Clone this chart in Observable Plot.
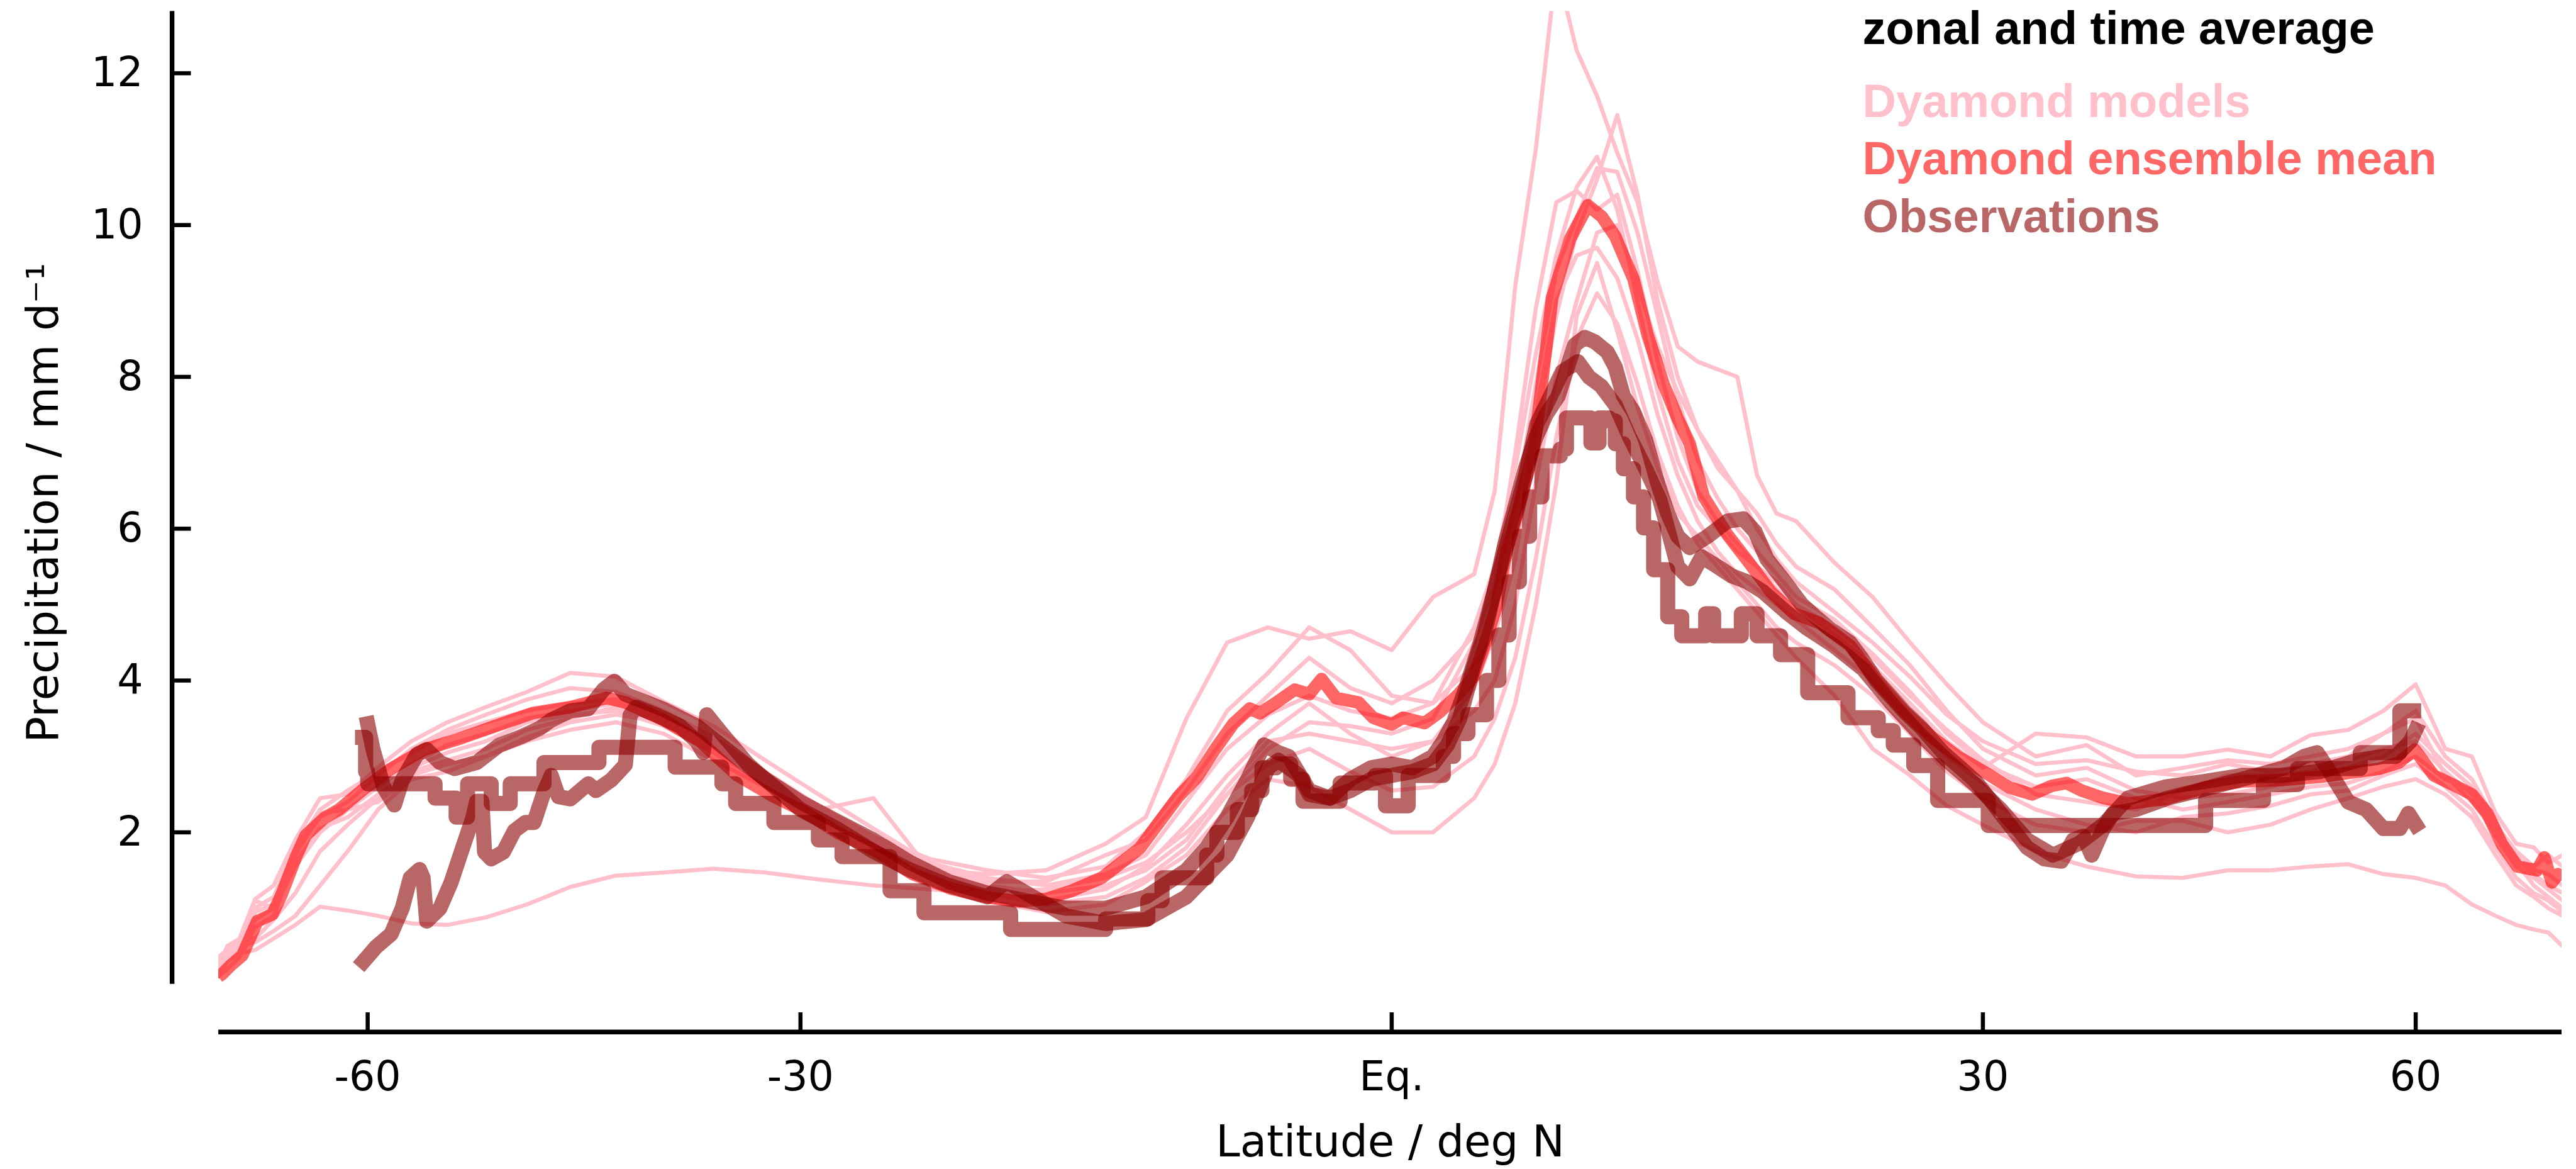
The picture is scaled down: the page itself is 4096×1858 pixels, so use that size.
<!DOCTYPE html>
<html>
<head>
<meta charset="utf-8">
<script src="https://cdn.jsdelivr.net/npm/d3@7"></script>
<script src="https://cdn.jsdelivr.net/npm/@observablehq/plot@0.6"></script>
<style>
  html, body { margin: 0; padding: 0; background: #fff; }
  #chart { width: 4096px; height: 1858px; }
</style>
</head>
<body>
<div id="chart"></div>
<script>
// ---------------- DATA ----------------
// latitude grid shared by the Dyamond model curves
const modelLat = [
  -83,-80,-77,-74,-71,-68,-65,-62,
  -59,-56,-53,-50,-47,-44,-41,-38,-35,-32,-29,
  -26,-23,-20,-17,-14,
  -12,-10,-8,-6,-4,-2,
  0,
  2,4,5,6,7,8,9,10,11,12,13,14,15,16,17,18,19,20,
  22,24,26,28,30,
  33,36,39,42,45,48,51,54,57,60,
  63,66,69,72,75,78,82
];
const model1 = [
  0.3,0.45,0.55,1.1,1.0,1.55,2.0,2.3,
  2.6,2.9,3.15,3.3,3.5,3.6,3.7,3.5,3.2,2.7,2.3,
  2.45,1.5,1.45,1.5,1.85,
  2.2,3.5,4.5,4.7,4.55,4.65,
  4.4,
  5.1,5.4,6.5,9.2,11.0,13.4,12.3,11.7,10.95,10.3,9.25,8.4,8.2,8.1,8.0,6.7,6.2,6.1,
  5.55,5.1,4.5,3.95,3.45,
  3.0,3.15,2.75,2.85,2.95,2.9,3.0,3.1,3.3,3.5,
  2.75,2.4,2.0,1.6,1.3,1.15,1.0
];
const model2 = [
  0.2,0.3,0.4,0.45,0.6,0.78,1.02,0.97,
  0.9,0.8,0.78,0.88,1.05,1.28,1.43,1.47,1.52,1.47,1.38,
  1.3,1.25,1.2,1.25,1.4,
  1.6,2.0,2.5,2.9,3.1,2.8,
  2.55,
  2.6,3.0,3.5,4.3,5.6,7.2,8.5,9.1,8.7,7.9,7.0,6.3,5.8,5.5,5.2,4.9,4.6,4.3,
  3.8,3.1,2.75,2.35,2.1,
  1.75,1.55,1.42,1.4,1.5,1.5,1.55,1.58,1.45,1.4,
  1.3,1.05,0.9,0.78,0.72,0.68,0.5
];
const model3 = [
  0.15,0.35,0.5,0.55,0.7,0.9,1.3,1.75,
  2.3,2.7,2.8,3.0,3.25,3.45,3.55,3.45,3.15,2.75,2.3,
  1.9,1.5,1.3,1.2,1.3,
  1.5,1.9,2.6,3.2,3.3,3.2,
  3.1,
  3.2,3.9,4.6,5.6,7.5,9.0,9.6,9.7,9.3,8.5,7.5,6.7,6.1,5.7,5.4,5.2,5.0,4.8,
  4.4,4.0,3.5,3.0,2.65,
  2.3,2.1,2.0,2.2,2.25,2.35,2.5,2.55,2.75,2.9,
  2.6,2.3,1.8,1.4,1.2,1.1,0.95
];
const model4 = [
  0.12,0.3,0.42,0.95,1.05,1.75,2.2,2.4,
  2.75,3.1,3.35,3.55,3.75,3.9,3.85,3.6,3.25,2.8,2.35,
  1.95,1.65,1.5,1.4,1.55,
  2.0,2.7,3.6,4.1,4.7,4.4,
  3.8,
  3.7,4.2,4.6,5.6,7.3,8.8,9.9,10.6,11.45,10.4,9.0,8.0,7.3,6.8,6.5,6.2,5.8,5.5,
  5.2,4.7,4.2,3.6,3.1,
  2.75,2.85,2.55,2.45,2.5,2.6,2.75,2.85,3.0,3.3,
  2.9,2.6,2.05,1.7,1.5,1.45,1.3
];
const model5 = [
  0.25,0.4,0.6,1.12,1.3,1.9,2.45,2.5,
  2.86,3.2,3.45,3.65,3.85,4.1,4.05,3.72,3.4,2.95,2.5,
  2.05,1.6,1.4,1.3,1.45,
  1.7,2.4,3.1,3.55,3.8,3.6,
  3.5,
  3.7,4.7,5.5,6.8,8.3,9.6,10.5,10.9,10.2,9.0,7.8,6.9,6.3,6.0,5.7,5.5,5.3,5.0,
  4.6,4.2,3.7,3.2,2.85,
  3.3,3.25,3.0,3.0,3.09,3.0,3.28,3.35,3.6,3.95,
  3.1,3.0,2.25,1.85,1.8,1.6,1.7
];
const model6 = [
  0.1,0.2,0.35,0.75,0.9,1.7,2.25,2.3,
  2.4,2.75,2.9,3.0,3.2,3.35,3.45,3.3,2.95,2.6,2.2,
  1.8,1.45,1.2,1.05,1.15,
  1.4,1.8,2.5,3.1,3.45,3.4,
  3.3,
  3.5,4.5,5.3,7.0,8.9,10.3,10.45,10.2,10.4,9.4,8.2,7.2,6.5,6.1,5.8,5.5,5.2,5.0,
  4.7,4.3,3.8,3.35,2.95,
  2.5,2.4,2.3,2.55,2.75,2.75,2.8,2.95,3.1,3.2,
  2.8,2.5,1.95,1.55,1.4,1.25,1.1
];
const model7 = [
  0.2,0.5,0.6,0.6,0.85,1.2,1.75,2.1,
  2.45,2.85,3.05,3.2,3.45,3.55,3.6,3.4,3.05,2.65,2.25,
  1.85,1.4,1.1,0.95,1.05,
  1.35,1.7,2.3,2.7,2.6,2.3,
  2.0,
  2.0,2.45,2.9,3.7,5.0,6.6,8.8,9.5,8.6,7.6,6.8,6.2,5.9,5.6,5.3,5.0,4.7,4.5,
  4.2,3.8,3.3,2.8,2.45,
  2.1,2.0,2.15,2.15,2.0,2.1,2.3,2.45,2.6,2.7,
  2.5,2.2,1.7,1.3,1.15,1.0,0.9
];
const model8 = [
  0.35,0.45,0.5,1.0,1.15,1.8,2.3,2.55,
  2.8,3.05,3.3,3.45,3.6,3.7,3.75,3.55,3.15,2.7,2.3,
  1.95,1.55,1.35,1.35,1.7,
  1.9,2.55,3.3,3.8,4.3,3.9,
  3.7,
  4.0,4.6,5.2,6.3,7.9,9.4,10.1,10.75,10.7,9.9,8.8,7.7,6.9,6.4,6.0,5.7,5.4,5.1,
  4.8,4.35,3.85,3.3,2.9,
  2.6,2.7,2.45,2.3,2.4,2.5,2.6,2.65,2.8,3.0,
  2.7,2.55,2.1,1.75,1.55,1.7,1.55
];
const model9 = [
  0.15,0.3,0.45,0.85,1.0,1.6,2.05,2.2,
  2.5,2.8,2.95,3.1,3.35,3.5,3.65,3.45,3.1,2.7,2.28,
  1.8,1.45,1.25,1.1,1.25,
  1.55,2.1,2.75,3.3,3.7,3.3,
  3.0,
  3.2,3.6,4.0,5.0,6.6,8.0,9.0,9.9,10.0,9.2,8.4,7.8,7.3,6.9,6.5,6.0,5.6,5.3,
  4.9,4.5,4.05,3.55,3.2,
  2.9,2.95,2.8,2.75,2.9,2.8,2.9,3.0,3.3,3.6,
  3.0,2.7,2.15,1.65,1.45,1.3,1.2
];

// Dyamond ensemble mean: [latitude, mm/d]
const ensembleMean = [
  [-83,0.08],[-82.8,0.1],[-81.6,0.13],[-79,0.25],[-76.4,0.38],[-73.6,0.83],[-71.2,0.92],[-69.9,1.17],
  [-67.9,1.68],[-66.7,1.96],[-64.5,2.19],[-62.9,2.30],[-60.3,2.58],[-57.8,2.84],[-54.9,3.09],[-52.1,3.23],
  [-49.3,3.40],[-46.6,3.57],[-44.0,3.65],[-41.6,3.77],[-40.4,3.71],[-38.0,3.48],[-35.8,3.20],[-33.6,2.75],
  [-31.5,2.47],[-30.0,2.30],[-27.9,1.99],[-25.9,1.76],[-23.9,1.45],[-21.9,1.26],[-19.9,1.14],[-18.4,1.09],
  [-17.0,1.12],[-15.7,1.23],[-14.2,1.40],[-12.3,1.79],[-10.4,2.47],[-9.5,2.72],[-8.6,3.09],[-7.7,3.43],
  [-6.9,3.63],[-6.4,3.57],[-5.6,3.71],[-4.7,3.88],[-4.0,3.82],[-3.4,4.02],[-2.7,3.77],[-1.6,3.71],
  [-0.9,3.51],[0,3.42],[0.54,3.51],[1.6,3.44],[2.35,3.59],[3.25,3.82],[3.97,4.05],[4.5,4.46],
  [5.06,4.96],[5.6,5.72],[6.2,6.3],[6.93,7.08],[7.8,9.04],[8.68,9.82],[9.55,10.26],[10.24,10.11],
  [10.9,9.85],[11.8,9.29],[12.5,8.55],[13.3,7.9],[14.0,7.45],[14.6,7.12],[15.3,6.42],[16.5,5.92],
  [17.6,5.55],[18.7,5.17],[19.9,4.88],[21.2,4.76],[22.8,4.46],[24.2,4.0],[25.7,3.59],[27.2,3.25],
  [28.6,3.0],[29.6,2.86],[30.4,2.75],[31.5,2.59],[32.8,2.50],[33.9,2.61],[34.8,2.65],[35.7,2.55],
  [36.9,2.46],[38.5,2.38],[40.9,2.44],[43.4,2.59],[46.0,2.67],[48.8,2.69],[51.7,2.73],[54.8,2.80],
  [56.7,2.84],[58.4,2.92],[59.9,3.09],[61.8,2.75],[63.8,2.63],[66.0,2.50],[67.9,2.25],[69.9,1.84],
  [72.2,1.55],[75.6,1.50],[77.1,1.67],[78.9,1.34],[80.5,1.45],[82,1.38]
];

// Observations: three products [latitude, mm/d]
const obsA = [
  [-60.0,3.43],[-59.5,3.1],[-58.5,2.6],[-57.5,2.36],[-56.8,2.69],[-55.5,3.03],[-54.7,3.09],[-53.6,2.92],
  [-52.4,2.84],[-50.7,2.92],[-49.0,3.15],[-47.4,3.26],[-46.1,3.37],[-45.3,3.48],[-44.0,3.60],[-42.8,3.63],
  [-41.8,3.88],[-41.1,3.99],[-40.4,3.82],[-38.0,3.62],[-36.0,3.40],[-34.0,3.05],[-32.0,2.70],[-30.0,2.40],
  [-28.0,2.15],[-26.0,1.90],[-24.0,1.60],[-22.0,1.35],[-20.0,1.20],[-18.0,1.10],[-16.0,1.00],[-14.0,1.00],
  [-12.0,1.15],[-10.0,1.50],[-9.0,1.80],[-8.0,2.20],[-7.0,2.70],[-6.2,3.15],[-5.5,3.05],[-5.0,3.00],
  [-4.0,2.55],[-3.0,2.45],[-2.0,2.55],[-1.0,2.70],[0.0,2.75],[1.0,2.80],[2.0,2.90],[2.7,3.15],
  [3.3,3.50],[4.0,4.20],[4.5,4.60],[5.0,5.20],[5.5,5.80],[6.0,6.30],[6.5,6.80],[7.0,7.20],
  [7.5,7.50],[8.1,7.75],[8.9,8.42],[9.4,8.52],[9.9,8.46],[10.5,8.33],[10.9,8.13],[11.3,7.75],
  [11.8,7.54],[12.4,7.17],[13.0,6.60],[13.5,6.20],[14.0,5.90],[14.6,5.75],[15.5,5.90],[16.5,6.10],
  [17.3,6.13],[17.9,5.96],[18.5,5.60],[19.3,5.34],[20.3,5.00],[21.0,4.84],[21.8,4.67],[22.8,4.50],
  [23.4,4.30],[24.2,4.00],[25.7,3.59],[26.6,3.38],[27.8,3.05],[28.8,2.84],[29.6,2.67],[30.5,2.40],
  [31.5,2.10],[32.5,1.80],[33.5,1.65],[34.5,1.62],[35.2,1.90],[35.8,1.95],[36.3,1.70],[37.0,2.05],
  [37.6,2.25],[39.0,2.30],[41.0,2.45],[43.0,2.55],[45.0,2.65],[47.0,2.75],[49.0,2.85],[50.5,3.00],
  [51.5,3.05],[52.5,2.80],[54.0,2.40],[55.5,2.30],[57.0,2.05],[58.5,2.05],[59.3,2.25],[60.0,2.10]
];
const obsB = [
  [-60.4,0.30],[-59.2,0.49],[-57.8,0.66],[-56.8,1.00],[-56.1,1.40],[-55.3,1.51],[-55.0,1.40],[-54.7,0.83],
  [-53.6,1.00],[-52.7,1.34],[-51.8,1.79],[-51.0,2.19],[-50.7,2.41],[-50.3,2.41],[-50.1,1.74],[-49.6,1.65],
  [-48.7,1.74],[-47.9,2.02],[-47.1,2.13],[-46.5,2.13],[-45.8,2.53],[-45.3,2.75],[-44.8,2.47],[-44.0,2.44],
  [-42.8,2.64],[-42.3,2.55],[-41.3,2.69],[-40.4,2.89],[-40.1,3.54],[-39.7,3.65],[-38.5,3.55],[-37.0,3.40],
  [-36.0,3.20],[-35.6,3.05],[-35.4,3.55],[-34.5,3.30],[-33.0,2.90],[-31.5,2.60],[-30.0,2.30],[-28.0,2.05],
  [-26.0,1.75],[-24.0,1.50],[-22.0,1.30],[-20.0,1.15],[-19.0,1.35],[-18.0,1.20],[-16.0,0.90],[-14.0,0.80],
  [-12.0,0.85],[-10.0,1.15],[-8.0,1.70],[-7.0,2.20],[-6.0,2.85],[-5.5,2.95],[-4.5,2.75],[-4.0,2.50],
  [-3.0,2.45],[-2.0,2.70],[-1.0,2.85],[0.0,2.90],[1.0,2.85],[2.0,3.00],[2.5,3.20],[3.0,3.45],
  [3.6,3.90],[4.3,4.50],[4.9,5.10],[5.4,5.60],[6.0,6.20],[6.5,6.70],[7.05,7.38],[7.8,7.79],
  [8.3,8.07],[9.06,8.20],[9.6,8.00],[10.2,7.88],[10.9,7.63],[11.6,7.21],[12.4,6.79],[13.1,6.39],
  [13.5,6.00],[14.0,5.50],[14.6,5.34],[15.2,5.63],[16.0,5.50],[16.7,5.38],[17.5,5.30],[18.3,5.17],
  [19.5,4.90],[20.5,4.70],[22.0,4.45],[23.5,4.15],[25.0,3.70],[26.5,3.30],[28.0,2.95],[29.6,2.62],
  [31.0,2.30],[32.5,1.90],[34.0,1.70],[35.5,1.85],[37.0,2.10],[38.5,2.45],[40.9,2.60],[43.4,2.67],
  [46.0,2.75],[48.8,2.75],[51.7,2.80],[54.8,2.95],[57.0,3.00],[58.1,3.00],[59.5,3.20],[60.0,3.35]
];
// coarse gridded product, drawn as steps
const obsC = [
  [-60.5,3.25],[-60.2,2.8],[-60.0,2.64],[-54.0,2.45],[-52.3,2.2],[-51.4,2.64],[-49.6,2.38],[-48.2,2.64],
  [-45.8,2.92],[-42.1,3.12],[-37.3,2.86],[-34.5,2.64],[-33.7,2.38],[-31.5,2.13],[-29.0,1.90],[-27.7,1.68],
  [-25.1,1.23],[-23.3,0.94],[-18.8,0.72],[-14.0,0.86],[-11.9,1.10],[-11.2,1.40],[-9.0,1.70],[-8.5,2.0],
  [-7.5,2.3],[-6.8,2.55],[-6.3,2.85],[-5.6,2.9],[-4.9,2.7],[-4.3,2.41],[-2.5,2.65],[-0.8,2.75],
  [-0.3,2.35],[0.8,2.75],[2.5,3.0],[3.0,3.3],[3.7,3.55],[4.6,4.0],[5.2,4.6],[5.7,5.3],
  [6.2,5.9],[6.7,6.42],[7.3,6.96],[8.2,7.05],[8.5,7.46],[9.7,7.13],[10.1,7.46],[10.6,7.42],
  [10.9,7.12],[11.3,6.79],[11.8,6.42],[12.3,6.01],[12.8,5.46],[13.5,4.84],[14.2,4.59],[15.4,4.88],
  [15.8,4.59],[17.2,4.88],[18.0,4.59],[19.2,4.34],[20.6,3.84],[22.7,3.51],[24.3,3.34],[25.1,3.15],
  [26.2,2.88],[27.5,2.42],[30.3,2.09],[43.5,2.42],[47.5,2.63],[50.0,2.84],[55.0,3.05],[58.5,3.6],
  [59.8,3.6]
];

const yTicks = [2, 4, 6, 8, 10, 12];
const xTickLat = [-60, -30, 0, 30, 60];
const xTickLabels = ["-60", "-30", "Eq.", "30", "60"];
const legendLabels = ["zonal and time average", "Dyamond models", "Dyamond ensemble mean", "Observations"];
const legendColors = ["#000000", "#ffc0cb", "rgb(255,102,102)", "rgb(185,102,102)"];
const xLabel = "Latitude / deg N";
const yLabel = "Precipitation / mm d\u207B\u00B9";

// ---------------- CHART ----------------
const rad = Math.PI / 180;
const sinLat = (lat) => Math.sin(lat * rad);
const latDomain = [-82.79, 81.74];
const yTop = 12.815;

const models = [model1, model2, model3, model4, model5, model6, model7, model8, model9]
  .flatMap((vals, k) => modelLat.map((lat, i) => ({lat, v: vals[i], key: "m" + k})));
const meanRows = ensembleMean.map(([lat, v]) => ({lat, v}));
const obsRows = [obsA, obsB].flatMap((arr, k) => arr.map(([lat, v]) => ({lat, v, key: "o" + k})));
const obsStepRows = obsC.map(([lat, v]) => ({lat, v}));

const tickLabelMap = new Map(xTickLat.map((l, i) => [sinLat(l), xTickLabels[i]]));

const tickFont = "'DejaVu Sans', 'Liberation Sans', sans-serif";
const legendFont = "'Liberation Sans', Arial, Helvetica, sans-serif";
const legendDy = [52.0, 167.4, 258.7, 350.5];

const plot = Plot.plot({
  width: 4096,
  height: 1858,
  marginLeft: 347.1,
  marginRight: 23,
  marginTop: 17.6,
  marginBottom: 294.3,
  style: {fontFamily: tickFont, fontSize: "65px", background: "#fff", overflow: "visible"},
  x: {type: "linear", domain: latDomain.map(sinLat)},
  y: {type: "linear", domain: [0, yTop]},
  marks: [
    // models
    Plot.line(models, {x: (d) => sinLat(d.lat), y: "v", z: "key", stroke: "#ffc0cb",
      strokeWidth: 6.5, strokeLinejoin: "round", clip: true}),
    // ensemble mean
    Plot.line(meanRows, {x: (d) => sinLat(d.lat), y: "v", stroke: "red", strokeOpacity: 0.6,
      strokeWidth: 20, strokeLinejoin: "round", strokeLinecap: "butt", clip: true}),
    // observations
    Plot.line(obsRows, {x: (d) => sinLat(d.lat), y: "v", z: "key", stroke: "darkred", strokeOpacity: 0.6,
      strokeWidth: 24, strokeLinejoin: "round", strokeLinecap: "square", clip: true}),
    Plot.line(obsStepRows, {x: (d) => sinLat(d.lat), y: "v", curve: "step-after", stroke: "darkred",
      strokeOpacity: 0.6, strokeWidth: 24, strokeLinejoin: "round", strokeLinecap: "square", clip: true}),
    // spines
    Plot.ruleX([latDomain[0]], {x: sinLat, y1: 0, y2: yTop, dx: -74, stroke: "black", strokeWidth: 7.4}),
    Plot.ruleY([0], {dy: 76.1, stroke: "black", strokeWidth: 7.4}),
    // axes
    Plot.axisY({anchor: "left", ticks: yTicks, tickFormat: (d) => String(d), tickSize: 30.4, tickPadding: 46,
      dx: -43.6, strokeWidth: 6.5, fontSize: 65, fontFamily: tickFont, label: null}),
    Plot.axisX({anchor: "bottom", ticks: xTickLat.map(sinLat), tickFormat: (d) => tickLabelMap.get(d),
      tickSize: 31, tickPadding: 46, dy: 45.3, strokeWidth: 6.5, fontSize: 65, fontFamily: tickFont, label: null}),
    // axis titles
    Plot.text([xLabel], {frameAnchor: "bottom", text: (d) => d, dy: 273.3, lineAnchor: "bottom",
      textAnchor: "middle", fontSize: 69, fontFamily: tickFont, fill: "black"}),
    Plot.text([yLabel], {frameAnchor: "left", text: (d) => d, rotate: -90, dx: -255.5, dy: 8,
      lineAnchor: "bottom", textAnchor: "middle", fontSize: 69, fontFamily: tickFont, fill: "black"}),
    // legend
    ...legendLabels.map((label, i) => Plot.text([label], {frameAnchor: "top-left", text: (d) => d,
      dx: 2614, dy: legendDy[i], lineAnchor: "bottom", textAnchor: "start", fontSize: 74,
      fontWeight: "bold", fontFamily: legendFont, fill: legendColors[i]}))
  ]
});

document.getElementById("chart").append(plot);
</script>
</body>
</html>
